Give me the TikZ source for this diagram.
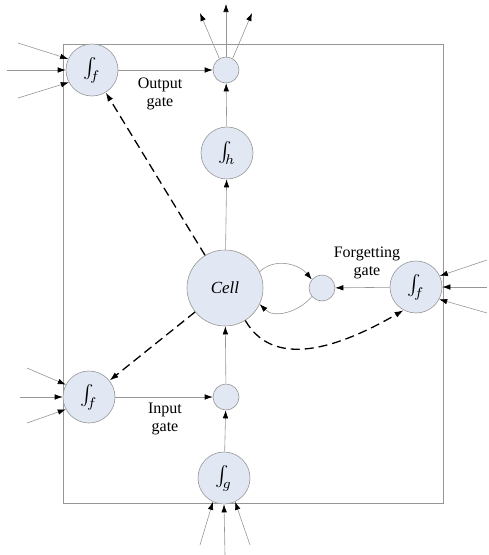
\documentclass[tikz,border=0pt]{standalone}
\usepackage{graphicx}
\usepackage{fontspec}
\setmainfont{Liberation Serif}
\usetikzlibrary{arrows.meta}
\definecolor{nodefill}{RGB}{226,232,243}
\definecolor{edgegray}{RGB}{150,150,150}
\newcommand{\integ}[1]{\scalebox{2}{$\int_{\!#1}$}}
\begin{document}
\begin{tikzpicture}[x=1pt,y=-1pt,
  neuron/.style={circle, draw=edgegray, fill=nodefill, minimum size=52pt, inner sep=0pt, line width=0.6pt},
  mult/.style={circle, draw=edgegray, fill=nodefill, minimum size=26pt, inner sep=0pt, line width=0.6pt},
  cellnode/.style={circle, draw=edgegray, fill=nodefill, minimum size=76pt, inner sep=0pt, line width=0.6pt, font=\fontsize{17}{20}\selectfont\itshape},
  conn/.style={draw=edgegray, line width=0.6pt, -{Latex[length=8pt,width=5.5pt,color=black]}},
  dashconn/.style={draw=black, line width=1.3pt, dash pattern=on 9pt off 5pt, -{Latex[length=9pt,width=6pt]}},
  lbl/.style={font=\fontsize{16}{18}\selectfont, align=center}
]
\useasboundingbox (0,0) rectangle (489,555);
\draw[edgegray, line width=0.6pt] (63,44) rectangle (443,503);

% nodes
\node[neuron] (of) at (92,70) {\integ{f}};
\node[mult] (om) at (226,70) {};
\node[neuron] (h) at (227,153) {\integ{h}};
\node[cellnode] (cell) at (225,288) {Cell};
\node[mult] (fm) at (322,288) {};
\node[neuron] (ff) at (416,287) {\integ{f}};
\node[neuron] (inf) at (89,397) {\integ{f}};
\node[mult] (im) at (226,397) {};
\node[neuron] (g) at (224,478) {\integ{g}};

% labels
\node[lbl] (ol) at (160,94) {Output\\gate};
\node[lbl] (fl) at (367,263) {Forgetting\\gate};
\node[lbl] (il) at (165,419) {Input\\gate};

% free ends
\coordinate (o1) at (200,13);
\coordinate (o2) at (226,4);
\coordinate (o3) at (252,13);
\coordinate (a1) at (18,43);
\coordinate (a2) at (7,70);
\coordinate (a3) at (18,98);
\coordinate (b1) at (27,368);
\coordinate (b2) at (20,397);
\coordinate (b3) at (27,423);
\coordinate (c1) at (487,260);
\coordinate (c2) at (487,287);
\coordinate (c3) at (487,313);
\coordinate (d1) at (200,545);
\coordinate (d2) at (225,555);
\coordinate (d3) at (250,545);

% external inputs/outputs
\draw[conn] (om.120) -- (o1);
\draw[conn] (om.north) -- (o2);
\draw[conn] (om.60) -- (o3);
\draw[conn] (a1) -- (of.155);
\draw[conn] (a2) -- (of.west);
\draw[conn] (a3) -- (of.208);
\draw[conn] (b1) -- (inf.152);
\draw[conn] (b2) -- (inf.west);
\draw[conn] (b3) -- (inf.208);
\draw[conn] (c1) -- (ff.25);
\draw[conn] (c2) -- (ff.east);
\draw[conn] (c3) -- (ff.-28);
\draw[conn] (d1) -- (g.-115);
\draw[conn] (d2) -- (g.south);
\draw[conn] (d3) -- (g.-65);

% internal connections
\draw[conn] (of) -- (om);
\draw[conn] (h) -- (om);
\draw[conn] (cell) -- (h);
\draw[conn] (ff) -- (fm);
\draw[conn] (im) -- (cell);
\draw[conn] (g) -- (im);
\draw[conn] (inf) -- (im);
\draw[conn] (cell.25) to[out=45, in=130] (fm.140);
\draw[conn] (fm.220) to[out=230, in=-45] (cell.-25);

% dashed
\draw[dashconn] (cell) -- (of);
\draw[dashconn] (cell) -- (inf);
\draw[dashconn] (cell.-58) to[out=-60, in=-150] (ff.-118);
\end{tikzpicture}
\end{document}
